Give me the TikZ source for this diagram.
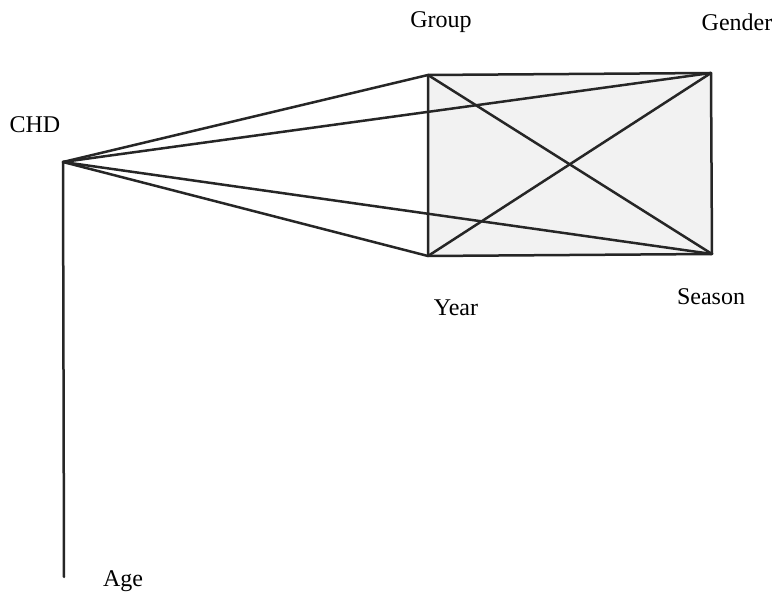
\documentclass[tikz,border=0pt]{standalone}
\usepackage{fontspec}
\setmainfont{Liberation Serif}
\begin{document}
\begin{tikzpicture}[x=1pt,y=-1pt,
  lbl/.style={font=\fontsize{24}{28}\selectfont, inner sep=0pt},
  edge/.style={line width=2.5pt, line join=round, line cap=round, black!85}]
\useasboundingbox (0,0) rectangle (772,593);
\fill[white] (0,0) rectangle (772,593);
% corners
\coordinate (chd) at (63,162);
\coordinate (grp) at (428,75);
\coordinate (gen) at (711,73);
\coordinate (yr) at (428,256);
\coordinate (sea) at (712,254);
\coordinate (age) at (64,577);
% stippled fill
\fill[black!5] (grp) -- (gen) -- (sea) -- (yr) -- cycle;
% labels
\node[lbl] (lchd) at (35,125) {CHD};
\node[lbl] (lgrp) at (441,22) {Group};
\node[lbl] (lgen) at (737,22) {Gender};
\node[lbl] (lyr) at (456,308) {Year};
\node[lbl] (lsea) at (711,297) {Season};
\node[lbl] (lage) at (123,581) {Age};
% edges
\draw[edge] (chd) -- (grp);
\draw[edge] (chd) -- (gen);
\draw[edge] (chd) -- (yr);
\draw[edge] (chd) -- (sea);
\draw[edge] (chd) -- (age);
\draw[edge] (grp) -- (gen) -- (sea) -- (yr) -- cycle;
\draw[edge] (grp) -- (sea);
\draw[edge] (yr) -- (gen);
\end{tikzpicture}
\end{document}
